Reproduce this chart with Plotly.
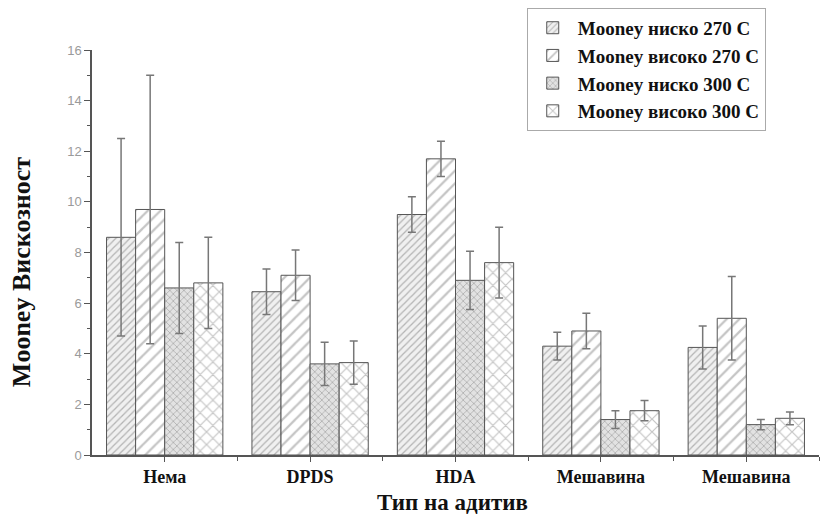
import plotly.graph_objects as go

categories = ["Нема", "DPDS", "HDA", "Мешавина", "Мешавина"]
series_names = ["Mooney ниско 270 C", "Mooney високо 270 C", "Mooney ниско 300 C", "Mooney високо 300 C"]
low_270 = [8.6, 6.45, 9.5, 4.3, 4.25]
low_270_err = [3.9, 0.9, 0.7, 0.55, 0.85]
high_270 = [9.7, 7.1, 11.7, 4.9, 5.4]
high_270_err = [5.3, 1.0, 0.7, 0.7, 1.65]
low_300 = [6.6, 3.6, 6.9, 1.4, 1.2]
low_300_err = [1.8, 0.85, 1.15, 0.35, 0.2]
high_300 = [6.8, 3.65, 7.6, 1.75, 1.45]
high_300_err = [1.8, 0.85, 1.4, 0.4, 0.25]
y_ticks = [0, 2, 4, 6, 8, 10, 12, 14, 16]

values = [low_270, high_270, low_300, high_300]
errors = [low_270_err, high_270_err, low_300_err, high_300_err]
shapes = ["/", "/", "x", "x"]
sizes = [5, 9, 5, 9]
bgs = ["#f0f0f0", "white", "#e2e2e2", "white"]
fgs = ["#777777", "#8a8a8a", "#666666", "#8a8a8a"]

xpos = list(range(len(categories)))
fig = go.Figure()
for name, v, e, sh, sz, bg, fg in zip(series_names, values, errors, shapes, sizes, bgs, fgs):
    fig.add_trace(go.Bar(
        x=xpos, y=v, name="<b>%s</b>" % name,
        error_y=dict(type="data", array=e, visible=True, color="#777", thickness=1.5, width=4),
        marker=dict(color=bg, line=dict(color="#555", width=1),
                    pattern=dict(shape=sh, size=sz, solidity=0.25, fgcolor=fg, bgcolor=bg)),
    ))

serif = "Liberation Serif"
# the page body has an 8px margin, so the figure is 8px smaller than the window
fig.update_layout(
    width=826, height=509,
    margin=dict(l=84, r=15, t=42, b=62, autoexpand=False),
    paper_bgcolor="white", plot_bgcolor="white",
    barmode="group", bargap=0.2, bargroupgap=0,
    showlegend=True,
    legend=dict(x=0.598, y=1.104, xanchor="left", yanchor="top",
                bordercolor="#aaa", borderwidth=1, bgcolor="white",
                font=dict(family=serif, size=19, color="#111"),
                itemwidth=40, tracegroupgap=0),
    xaxis=dict(range=[-0.5, 4.5], tickvals=xpos, ticktext=["<b>%s</b>" % c for c in categories],
               showline=True, linecolor="#555", linewidth=1.5, ticks="outside", ticklen=5,
               tickcolor="#555", showgrid=False, zeroline=False,
               minor=dict(tickvals=[0.5, 1.5, 2.5, 3.5, 4.5], ticks="outside", ticklen=4, tickcolor="#555"),
               tickfont=dict(family=serif, size=18, color="#111")),
    yaxis=dict(range=[0, 16], tickvals=y_ticks, showline=True, linecolor="#555", linewidth=1.5,
               ticks="outside", ticklen=6, tickcolor="#555", showgrid=False, zeroline=False,
               minor=dict(dtick=1, ticks="outside", ticklen=3, tickcolor="#555"),
               tickfont=dict(family="Liberation Sans", size=13, color="#9a9a9a")),
    annotations=[
        dict(text="<b>Mooney Вискозност</b>", textangle=-90, xref="paper", yref="paper",
             x=-0.096, y=0.452, xanchor="center", yanchor="middle", showarrow=False,
             font=dict(family=serif, size=26, color="#111")),
        dict(text="<b>Тип на адитив</b>", xref="paper", yref="paper",
             x=0.496, y=-0.1185, xanchor="center", yanchor="middle", showarrow=False,
             font=dict(family=serif, size=23, color="#111")),
    ],
)
fig.write_html("out.html")
